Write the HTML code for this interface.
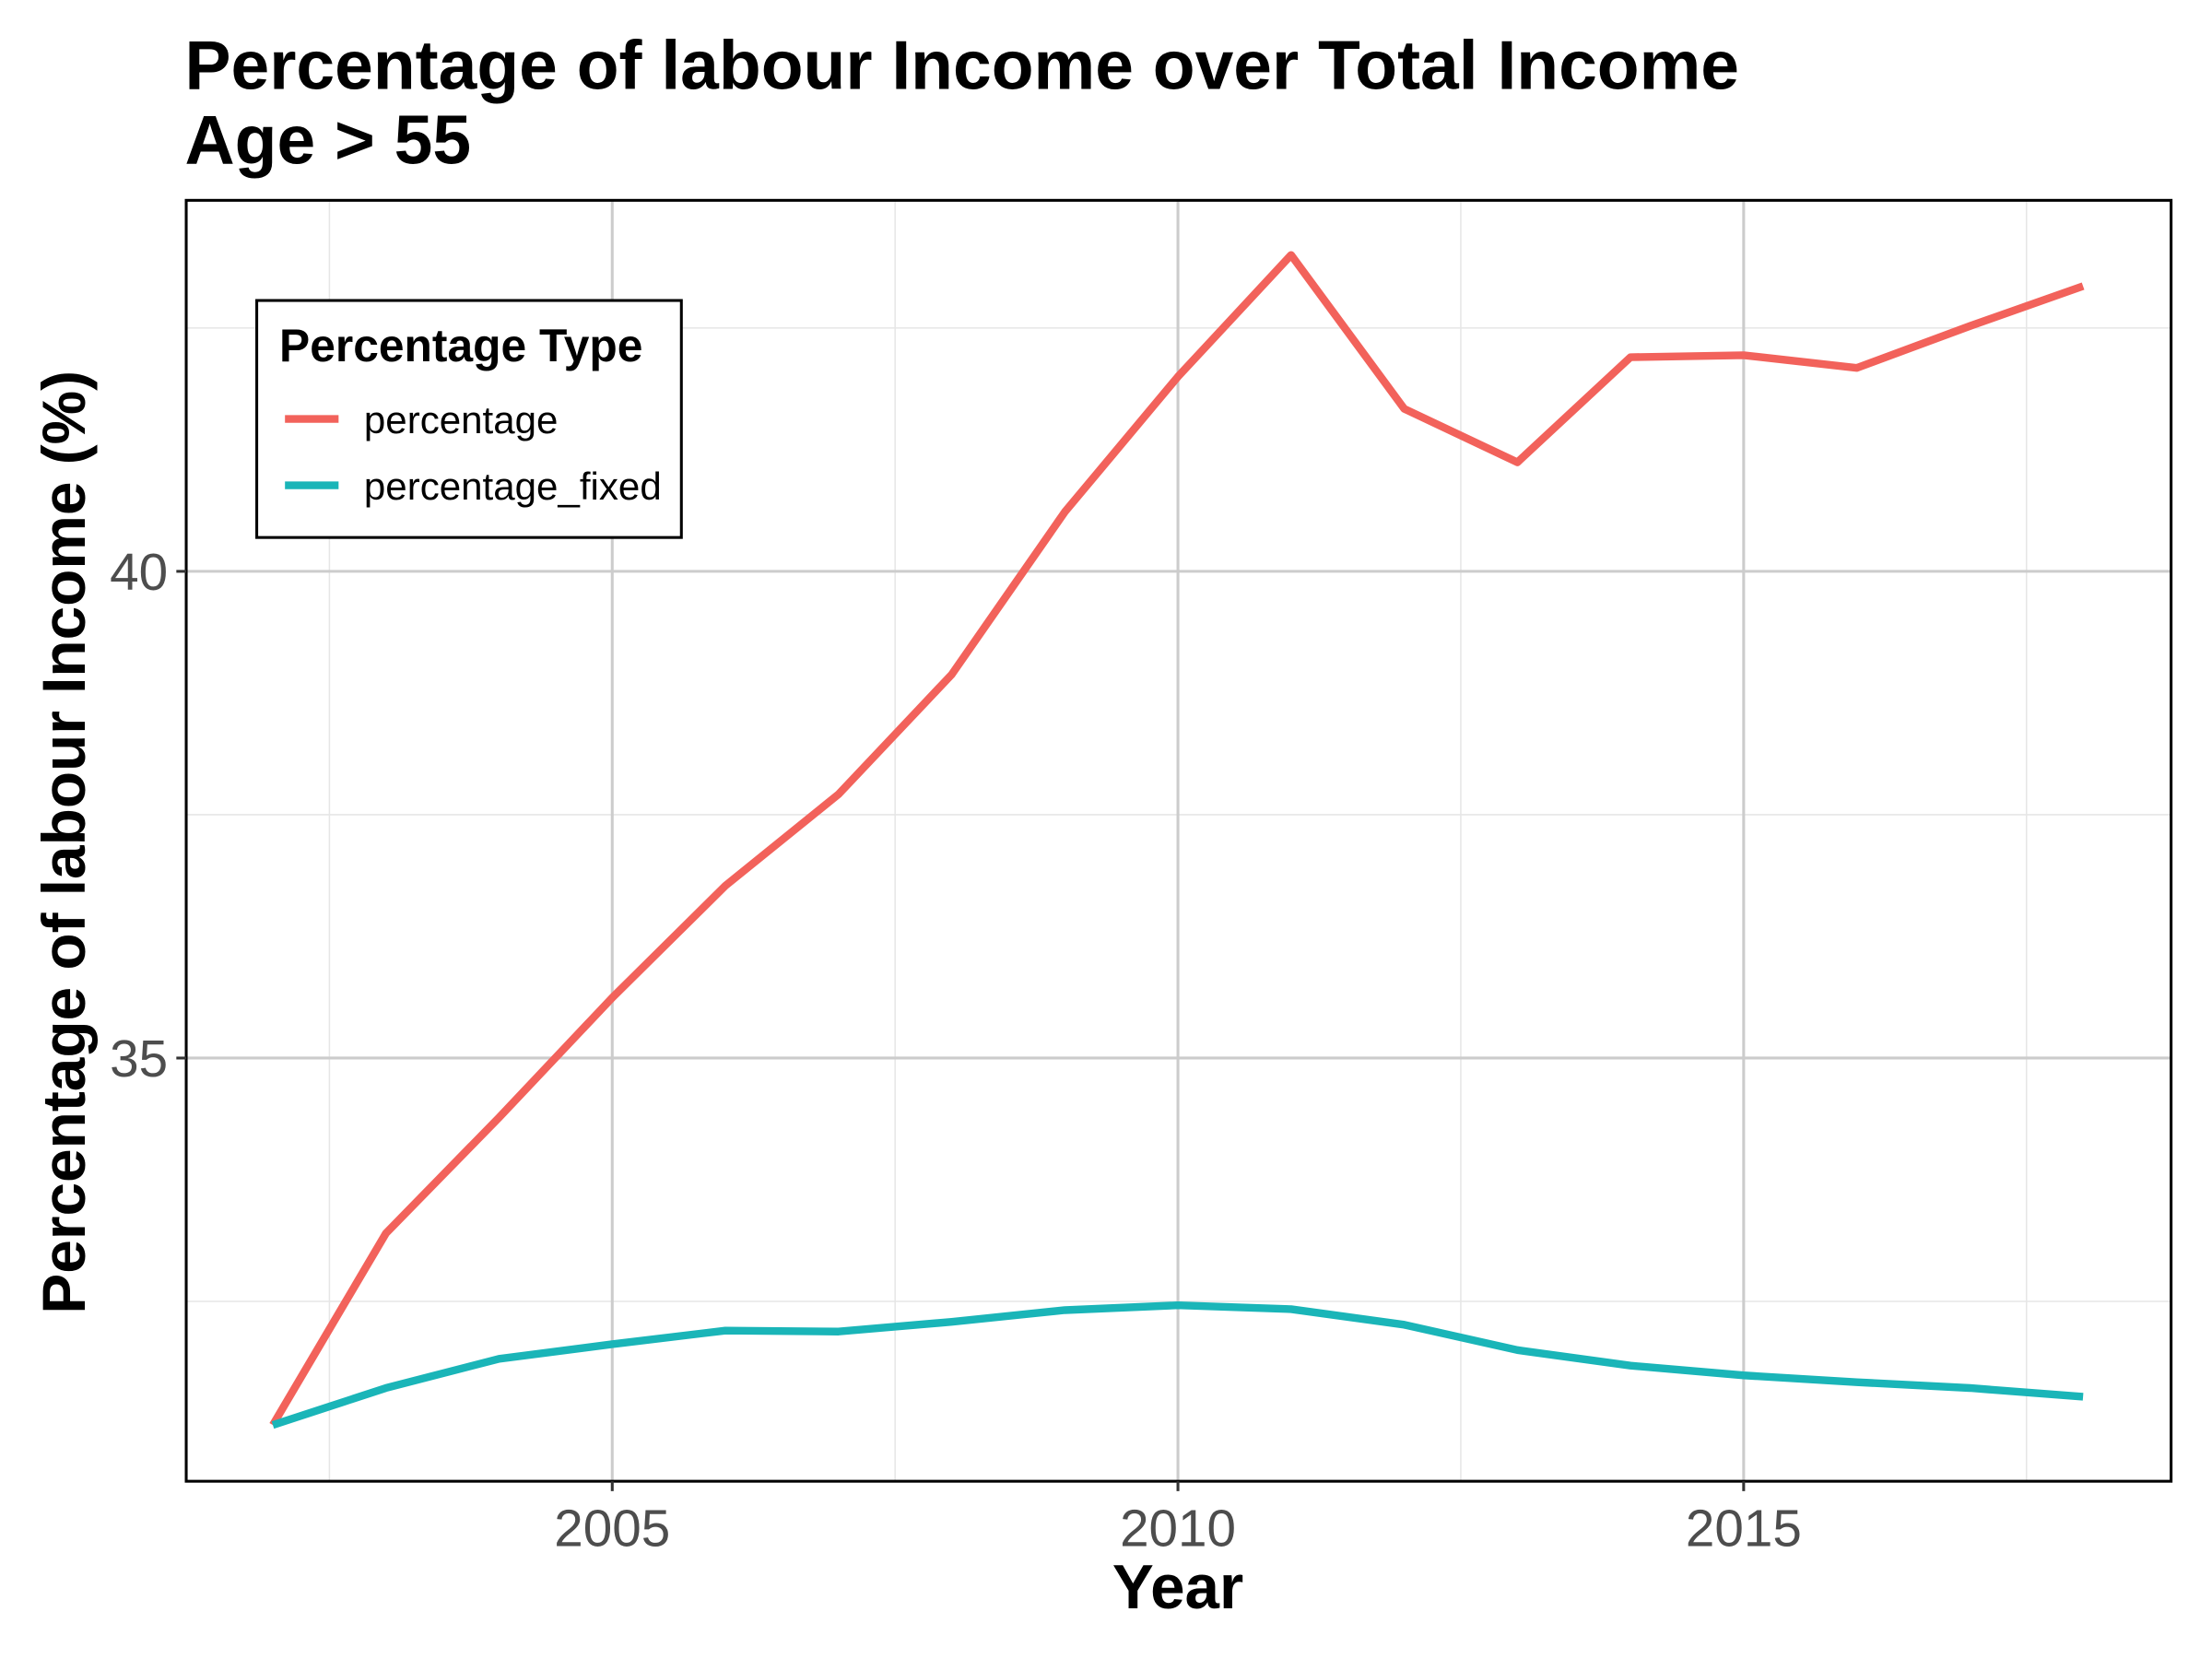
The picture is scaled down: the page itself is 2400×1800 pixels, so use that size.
<!DOCTYPE html>
<html><head><meta charset="utf-8"><style>
html,body{margin:0;padding:0;background:#fff}
svg{display:block}
text{font-family:"Liberation Sans",Arial,sans-serif}
</style></head><body>
<svg width="2400" height="1800" viewBox="0 0 1568 1176" xmlns="http://www.w3.org/2000/svg">
<rect width="1568" height="1176" fill="#fff"/>
<text x="131" y="63" font-size="49" font-weight="bold">Percentage of labour Income over Total Income</text>
<text x="131" y="116" font-size="49" font-weight="bold">Age &gt; 55</text>
<g id="grid"></g>
<g id="lines"></g>
<rect x="132" y="142" width="1407" height="908" fill="none" stroke="#000" stroke-width="2"/>
<g id="axes"></g>
<text x="835" y="1140" font-size="44" font-weight="bold" text-anchor="middle">Year</text>
<text transform="translate(60,597) rotate(-90)" font-size="43" font-weight="bold" text-anchor="middle">Percentage of labour Income (%)</text>
<g>
<rect x="182" y="213" width="301" height="168" fill="#fff" stroke="#000" stroke-width="2"/>
<text x="198" y="256" font-size="32.5" font-weight="bold">Percentage Type</text>
<line x1="202" y1="297" x2="240" y2="297" stroke="#F2625B" stroke-width="5.5"/>
<text x="258" y="307" font-size="27.5">percentage</text>
<line x1="202" y1="344" x2="240" y2="344" stroke="#1AB5B8" stroke-width="5.5"/>
<text x="258" y="354" font-size="27.5">percentage_fixed</text>
</g>
</svg>
<script>
const years=[2002,2003,2004,2005,2006,2007,2008,2009,2010,2011,2012,2013,2014,2015,2016,2017,2018];
const percentage=[31.23,33.2,34.39,35.62,36.77,37.71,38.94,40.61,42.0,43.25,41.67,41.12,42.2,42.22,42.09,42.52,42.93];
const percentageFixed=[31.23,31.61,31.91,32.06,32.2,32.19,32.29,32.41,32.46,32.42,32.26,32.0,31.84,31.74,31.67,31.61,31.52];
const xTicks=[2005,2010,2015];
const xMinor=[2002.5,2007.5,2012.5,2017.5];
const yTicks=[35,40];
const yMinor=[32.5,37.5,42.5];
const NS="http://www.w3.org/2000/svg";
const x=v=>434+(v-2005)*80.2;
const y=v=>405-(v-40)*69;
function mk(tag,attrs,parent){const e=document.createElementNS(NS,tag);for(const k in attrs)e.setAttribute(k,attrs[k]);parent.appendChild(e);return e;}
const grid=document.getElementById('grid'),axes=document.getElementById('axes'),lines=document.getElementById('lines');
xMinor.forEach(v=>{const l=mk('line',{x1:x(v),x2:x(v),y1:142,y2:1050,stroke:'#e6e6e6','stroke-width':1},grid);

});
yMinor.forEach(v=>{const l=mk('line',{x1:132,x2:1539,y1:y(v),y2:y(v),stroke:'#e6e6e6','stroke-width':1},grid);

});
xTicks.forEach(v=>{const l=mk('line',{x1:x(v),x2:x(v),y1:142,y2:1050,stroke:'#cccccc','stroke-width':2},grid);


const t=mk('line',{x1:x(v),x2:x(v),y1:1050,y2:1057,stroke:'#333','stroke-width':2},axes);


const tx=mk('text',{x:x(v),y:1096,'font-size':37,fill:'#4d4d4d','text-anchor':'middle'},axes);tx.textContent=v;

});
yTicks.forEach(v=>{const l=mk('line',{x1:132,x2:1539,y1:y(v),y2:y(v),stroke:'#cccccc','stroke-width':2},grid);


const t=mk('line',{x1:125,x2:132,y1:y(v),y2:y(v),stroke:'#333','stroke-width':2},axes);


const tx=mk('text',{x:119,y:y(v)+13,'font-size':37,fill:'#4d4d4d','text-anchor':'end'},axes);tx.textContent=v;

});
function series(vals,color,name){const p=mk('polyline',{points:vals.map((v,i)=>x(years[i])+','+y(v)).join(' '),fill:'none',stroke:color,'stroke-width':5.5,'stroke-linejoin':'round'},lines);

}
series(percentage,'#F2625B','line-percentage');
series(percentageFixed,'#1AB5B8','line-percentage-fixed');
</script>
</body></html>
